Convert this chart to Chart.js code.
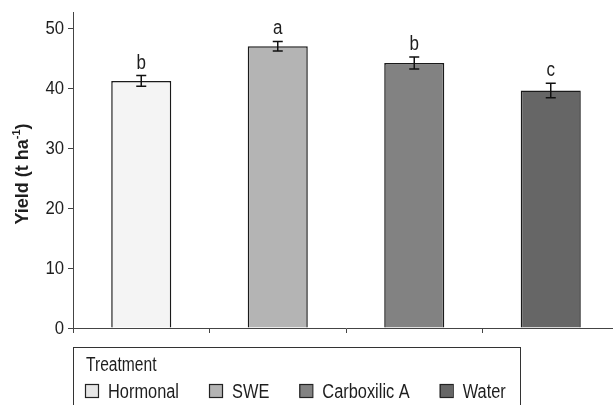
<!DOCTYPE html>
<html>
<head>
<meta charset="utf-8">
<script src="https://cdn.jsdelivr.net/npm/chart.js@4.4.0/dist/chart.umd.min.js"></script>
<style>
  html, body { margin: 0; padding: 0; background: #fff; overflow: hidden; }
  #wrap { width: 620px; height: 405px; }
</style>
</head>
<body>
<div id="wrap"><canvas id="yieldChart" width="620" height="405"></canvas></div>
<script>
const treatments = ['Hormonal', 'SWE', 'Carboxilic A', 'Water'];
const yieldValues = [41.2, 47.0, 44.2, 39.6];
const yieldErrors = [0.9, 0.8, 1.0, 1.2];
const groupLetters = ['b', 'a', 'b', 'c'];
const barColors = ['#f4f4f4', '#b4b4b4', '#828282', '#666666'];
const legendColors = ['#e6e6e6', '#b4b4b4', '#828282', '#666666'];
const yTicks = [0, 10, 20, 30, 40, 50];

const FONT = '"Liberation Sans", Arial, sans-serif';
const INK = '#1e1e1e';

// the reference uses a condensed face, so squeeze the text horizontally
function narrowText(ctx, text, x, y, sx, align) {
  const w = ctx.measureText(text).width * sx;
  let x0 = x;
  if (align === 'center') x0 = x - w / 2;
  else if (align === 'right') x0 = x - w;
  ctx.save();
  ctx.translate(x0, y);
  ctx.scale(sx, 1);
  ctx.textAlign = 'left';
  ctx.fillText(text, 0, 0);
  ctx.restore();
  return w;
}

// y tick labels and rotated axis title
const yLabels = {
  id: 'yLabels',
  afterDraw(chart) {
    const ctx = chart.ctx;
    const y = chart.scales.y;
    ctx.save();
    ctx.fillStyle = INK;
    ctx.textBaseline = 'middle';
    ctx.font = '18px ' + FONT;
    y.ticks.forEach(t => {
      narrowText(ctx, String(t.value), chart.chartArea.left - 9, y.getPixelForValue(t.value) + 1, 0.93, 'right');
    });

    // title
    const cy = (chart.chartArea.top + chart.chartArea.bottom) / 2 + 4;
    ctx.translate(23, cy);
    ctx.rotate(-Math.PI / 2);
    ctx.textBaseline = 'middle';
    const main = '18px ' + FONT, sup = '11px ' + FONT;
    ctx.font = 'bold ' + main;
    const a = 'Yield (t ha', c = ')';
    const wa = ctx.measureText(a).width, wc = ctx.measureText(c).width;
    ctx.font = 'bold ' + sup;
    const wb = ctx.measureText('-1').width;
    let x = -(wa + wb + wc) / 2;
    ctx.font = 'bold ' + main;
    ctx.textAlign = 'left';
    ctx.fillText(a, x, 0); x += wa;
    ctx.font = 'bold ' + sup;
    ctx.fillText('-1', x, -6); x += wb;
    ctx.font = 'bold ' + main;
    ctx.fillText(c, x, 0);
    ctx.restore();
  }
};

// error bars + significance letters
const errorBars = {
  id: 'errorBars',
  afterDatasetsDraw(chart) {
    const ctx = chart.ctx;
    const meta = chart.getDatasetMeta(0);
    const y = chart.scales.y;
    ctx.save();
    ctx.strokeStyle = '#111';
    ctx.lineWidth = 1.5;
    meta.data.forEach((bar, i) => {
      const top = y.getPixelForValue(yieldValues[i] + yieldErrors[i]);
      const bot = y.getPixelForValue(yieldValues[i] - yieldErrors[i]);
      const x = bar.x;
      ctx.beginPath();
      ctx.moveTo(x, top); ctx.lineTo(x, bot);
      ctx.moveTo(x - 5, top); ctx.lineTo(x + 5, top);
      ctx.moveTo(x - 5, bot); ctx.lineTo(x + 5, bot);
      ctx.stroke();
      ctx.fillStyle = INK;
      ctx.font = '20px ' + FONT;
      ctx.textBaseline = 'alphabetic';
      narrowText(ctx, groupLetters[i], x, top - 7, 0.85, 'center');
    });
    ctx.restore();
  }
};

// boxed legend under the plot
const boxLegend = {
  id: 'boxLegend',
  afterDraw(chart) {
    const ctx = chart.ctx;
    const left = chart.chartArea.left;
    ctx.save();
    ctx.strokeStyle = '#333';
    ctx.lineWidth = 1;
    ctx.strokeRect(left + 0.5, 347.5, 447, 70);
    ctx.fillStyle = INK;
    ctx.font = '19.5px ' + FONT;
    ctx.textBaseline = 'alphabetic';
    narrowText(ctx, 'Treatment', 86, 371, 0.8, 'left');
    let x = 85;
    treatments.forEach((t, i) => {
      ctx.fillStyle = legendColors[i];
      ctx.fillRect(x, 384, 13, 13);
      ctx.strokeStyle = '#222';
      ctx.lineWidth = 1.2;
      ctx.strokeRect(x + 0.5, 384.5, 13, 13);
      ctx.fillStyle = INK;
      const w = narrowText(ctx, t, x + 23, 398, 0.84, 'left');
      x += 23 + w + 30;
    });
    ctx.restore();
  }
};

new Chart(document.getElementById('yieldChart'), {
  type: 'bar',
  data: {
    labels: treatments,
    datasets: [{
      data: yieldValues,
      backgroundColor: barColors,
      borderColor: '#1a1a1a',
      borderWidth: 1.5,
      barPercentage: 0.44,
      categoryPercentage: 1
    }]
  },
  options: {
    responsive: false,
    animation: false,
    layout: { padding: { top: 12, right: 1, left: 0, bottom: 0 } },
    plugins: { legend: { display: false }, tooltip: { enabled: false } },
    scales: {
      x: {
        offset: true,
        grid: { offset: true, drawOnChartArea: false, drawTicks: true, tickLength: 5, color: '#444' },
        border: { display: true, color: '#444', width: 1 },
        ticks: { display: false },
        afterFit(scale) { scale.height = 77; }
      },
      y: {
        min: 0,
        max: 52.7,
        afterBuildTicks(scale) { scale.ticks = yTicks.map(v => ({ value: v })); },
        grid: { drawOnChartArea: false, drawTicks: true, tickLength: 5, color: '#444' },
        border: { display: true, color: '#444', width: 1 },
        ticks: { display: false },
        afterFit(scale) { scale.width = 73; }
      }
    }
  },
  plugins: [errorBars, yLabels, boxLegend]
});
</script>
</body>
</html>
